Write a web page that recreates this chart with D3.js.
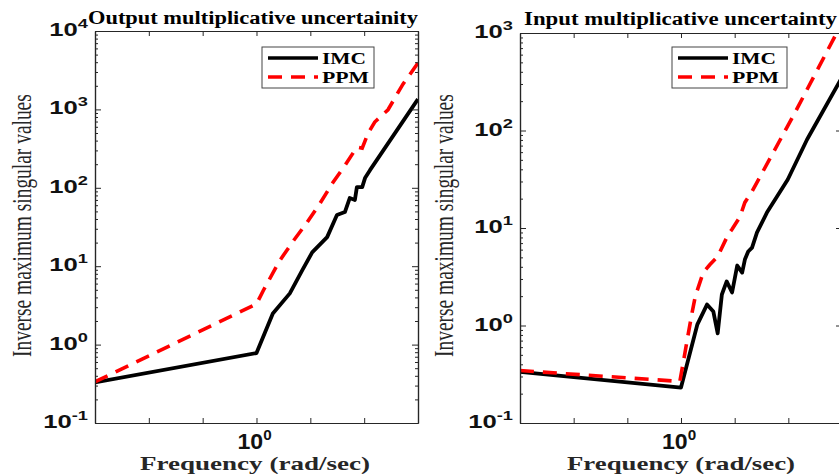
<!DOCTYPE html>
<html>
<head>
<meta charset="utf-8">
<script src="https://cdn.jsdelivr.net/npm/d3@7"></script>
<style>
  body { margin: 0; background: #fff; }
  svg { display: block; }
</style>
</head>
<body>
<div id="chart"></div>
<script>
// values
var titles = ["Output multiplicative uncertainity", "Input multiplicative uncertainty"];
var xLabel = "Frequency (rad/sec)";
var yLabel = "Inverse maximum singular values";
var seriesNames = ["IMC", "PPM"];

var freqRange = [0.2512, 3.981];
var xTickVals = [0.2512, 0.3981, 0.631, 1, 1.585, 2.512, 3.981];
var xTickLabelVals = [1];

// output multiplicative uncertainty
var outYRange = [0.1, 10000];
var outFreqIMC = [0.251, 1.0, 1.15, 1.33, 1.48, 1.61, 1.83, 1.99, 2.13, 2.22, 2.32, 2.36, 2.47, 2.53, 2.64, 3.98];
var outIMC = [0.33, 0.78, 2.5, 4.5, 8.9, 15, 23.5, 45, 49, 74, 70, 102, 102, 133, 168, 1350];
var outFreqPPM = [0.251, 1.0, 1.06, 1.22, 1.37, 1.54, 1.72, 1.92, 2.13, 2.36, 2.47, 2.6, 2.75, 3.08, 3.5, 3.98];
var outPPM = [0.335, 3.3, 4.9, 11.8, 21, 36, 63, 116, 192, 330, 320, 500, 690, 990, 2100, 3900];

// input multiplicative uncertainty
var inYRange = [0.1, 1000];
var inFreqIMC = [0.251, 1.0, 1.15, 1.25, 1.32, 1.37, 1.42, 1.48, 1.55, 1.62, 1.69, 1.73, 1.78, 1.84, 1.92, 2.09, 2.5, 2.95, 3.98];
var inIMC = [0.335, 0.231, 1.02, 1.64, 1.39, 0.83, 2.08, 2.83, 2.18, 4.12, 3.49, 4.75, 5.74, 6.3, 9.0, 14.4, 31.4, 80.9, 350];
var inFreqPPM = [0.251, 0.99, 1.02, 1.06, 1.1, 1.13, 1.21, 1.28, 1.37, 1.5, 1.55, 1.66, 1.73, 1.84, 2.66, 3.81];
var inPPM = [0.345, 0.267, 0.42, 0.77, 1.36, 1.98, 3.5, 4.2, 5.1, 8.6, 9.7, 13.1, 18.3, 23.7, 153, 1010];

var svgWidth = 839;
var svgHeight = 475;

var svg = d3.select("#chart")
  .append("svg")
  .attr("width", svgWidth)
  .attr("height", svgHeight);

var axisColor = "#262626";
var serif = "'Liberation Serif', 'Times New Roman', serif";
var sans = "'Liberation Sans', Arial, sans-serif";

var panels = [
  {
    left: 95, right: 418, top: 31, bottom: 423,
    yDomain: outYRange, title: titles[0], titleX: 88, titleW: 330, titleY: 24,
    imc: [outFreqIMC, outIMC], ppm: [outFreqPPM, outPPM],
    legend: {x: 262, y: 47, w: 112, h: 41},
    ylabX: 31, xlabX: 140, xlabW: 230
  },
  {
    left: 520, right: 842, top: 33, bottom: 423,
    yDomain: inYRange, title: titles[1], titleX: 524, titleW: 313, titleY: 25,
    imc: [inFreqIMC, inIMC], ppm: [inFreqPPM, inPPM],
    legend: {x: 672, y: 47, w: 115, h: 41},
    ylabX: 453, xlabX: 567, xlabW: 228
  }
];

function powerLabel(g, exp, fs, supFs, sx, anchor) {
  // "10" with a raised exponent, stretched horizontally
  var t = g.append("text")
    .attr("transform", "scale(" + sx + ",1)")
    .attr("text-anchor", anchor)
    .attr("font-family", sans)
    .attr("font-weight", "bold")
    .attr("font-size", fs)
    .attr("fill", "#111");
  t.append("tspan").text("10");
  t.append("tspan").attr("dy", -fs * 0.42).attr("font-size", supFs).text(exp);
}

panels.forEach(function(p, i) {
  var x = d3.scaleLog().domain(freqRange).range([p.left, p.right]);
  var y = d3.scaleLog().domain(p.yDomain).range([p.bottom, p.top]);

  var g = svg.append("g");

  // clip for the curves
  g.append("clipPath").attr("id", "clip" + i)
    .append("rect")
    .attr("x", p.left).attr("y", p.top)
    .attr("width", p.right - p.left).attr("height", p.bottom - p.top);

  // curves
  var line = d3.line()
    .x(function(d) { return x(d[0]); })
    .y(function(d) { return y(d[1]); });

  var imcPts = p.imc[0].map(function(f, k) { return [f, p.imc[1][k]]; });
  var ppmPts = p.ppm[0].map(function(f, k) { return [f, p.ppm[1][k]]; });

  g.append("path")
    .datum(imcPts)
    .attr("clip-path", "url(#clip" + i + ")")
    .attr("d", line)
    .attr("fill", "none")
    .attr("stroke", "#000")
    .attr("stroke-width", 3.8)
    .attr("stroke-linejoin", "round");

  g.append("path")
    .datum(ppmPts)
    .attr("clip-path", "url(#clip" + i + ")")
    .attr("d", line)
    .attr("fill", "none")
    .attr("stroke", "#ff0000")
    .attr("stroke-width", 3.6)
    .attr("stroke-dasharray", "14,9");

  // axes (ticks inward, box all round)
  var yTicks = y.ticks();
  var yMajor = yTicks.filter(function(v) { return Math.abs(Math.log10(v) - Math.round(Math.log10(v))) < 1e-6; });
  var yMinor = yTicks.filter(function(v) { return yMajor.indexOf(v) < 0; });

  function styleAxis(sel) {
    sel.select(".domain").attr("stroke", axisColor).attr("stroke-width", 1.2);
    sel.selectAll(".tick line").attr("stroke", axisColor).attr("stroke-width", 1);
    sel.selectAll(".tick text").remove();
  }

  g.append("g").attr("transform", "translate(0," + p.bottom + ")")
    .call(d3.axisBottom(x).tickValues(xTickVals).tickSize(-5).tickSizeOuter(0).tickFormat(""))
    .call(styleAxis);
  g.append("g").attr("transform", "translate(0," + p.top + ")")
    .call(d3.axisTop(x).tickValues(xTickVals).tickSize(-5).tickSizeOuter(0).tickFormat(""))
    .call(styleAxis);
  g.append("g").attr("transform", "translate(" + p.left + ",0)")
    .call(d3.axisLeft(y).tickValues(yMajor).tickSize(-6).tickSizeOuter(0).tickFormat(""))
    .call(styleAxis);
  g.append("g").attr("transform", "translate(" + p.left + ",0)")
    .call(d3.axisLeft(y).tickValues(yMinor).tickSize(-3).tickSizeOuter(0).tickFormat(""))
    .call(styleAxis);
  g.append("g").attr("transform", "translate(" + p.right + ",0)")
    .call(d3.axisRight(y).tickValues(yMajor).tickSize(-6).tickSizeOuter(0).tickFormat(""))
    .call(styleAxis);
  g.append("g").attr("transform", "translate(" + p.right + ",0)")
    .call(d3.axisRight(y).tickValues(yMinor).tickSize(-3).tickSizeOuter(0).tickFormat(""))
    .call(styleAxis);

  // y tick labels
  yMajor.forEach(function(v) {
    var lg = g.append("g")
      .attr("transform", "translate(" + (p.left - 7) + "," + (y(v) + 5) + ")");
    powerLabel(lg, String(Math.round(Math.log10(v))), 19, 13.5, 1.35, "end");
  });

  // x tick labels
  xTickLabelVals.forEach(function(v) {
    var lg = g.append("g")
      .attr("transform", "translate(" + (x(v) - 19) + "," + (p.bottom + 26) + ")");
    powerLabel(lg, String(Math.round(Math.log10(v))), 22, 14.5, 1.05, "start");
  });

  // title
  g.append("text")
    .attr("x", p.titleX)
    .attr("y", p.titleY)
    .attr("textLength", p.titleW)
    .attr("lengthAdjust", "spacingAndGlyphs")
    .attr("font-family", serif)
    .attr("font-weight", "bold")
    .attr("font-size", 18)
    .attr("fill", "#000")
    .text(p.title);

  // x label
  g.append("text")
    .attr("x", p.xlabX)
    .attr("y", 470)
    .attr("textLength", p.xlabW)
    .attr("lengthAdjust", "spacingAndGlyphs")
    .attr("font-family", serif)
    .attr("font-weight", "bold")
    .attr("font-size", 19.5)
    .attr("fill", "#262626")
    .text(xLabel);

  // y label, squeezed along its baseline
  g.append("text")
    .attr("transform", "translate(" + p.ylabX + ",357) rotate(-90) scale(0.72,1)")
    .attr("x", 0)
    .attr("y", 0)
    .attr("font-family", serif)
    .attr("font-size", 27)
    .attr("fill", "#262626")
    .text(yLabel);

  // legend
  var L = p.legend;
  var lg = g.append("g");
  lg.append("rect")
    .attr("x", L.x).attr("y", L.y)
    .attr("width", L.w).attr("height", L.h)
    .attr("fill", "#fff")
    .attr("stroke", "#444")
    .attr("stroke-width", 1);
  var rows = [
    {name: seriesNames[0], color: "#000", dash: null},
    {name: seriesNames[1], color: "#ff0000", dash: "14,9"}
  ];
  rows.forEach(function(r, k) {
    var cy = L.y + 11 + k * 19;
    lg.append("line")
      .attr("x1", L.x + 6).attr("x2", L.x + 56)
      .attr("y1", cy).attr("y2", cy)
      .attr("stroke", r.color)
      .attr("stroke-width", 3.6)
      .attr("stroke-dasharray", r.dash);
    lg.append("text")
      .attr("x", L.x + 60)
      .attr("y", cy + 5.5)
      .attr("textLength", k === 0 ? 44 : 47)
      .attr("lengthAdjust", "spacingAndGlyphs")
      .attr("font-family", serif)
      .attr("font-weight", "bold")
      .attr("font-size", 16)
      .attr("fill", "#000")
      .text(r.name);
  });
});
</script>
</body>
</html>
